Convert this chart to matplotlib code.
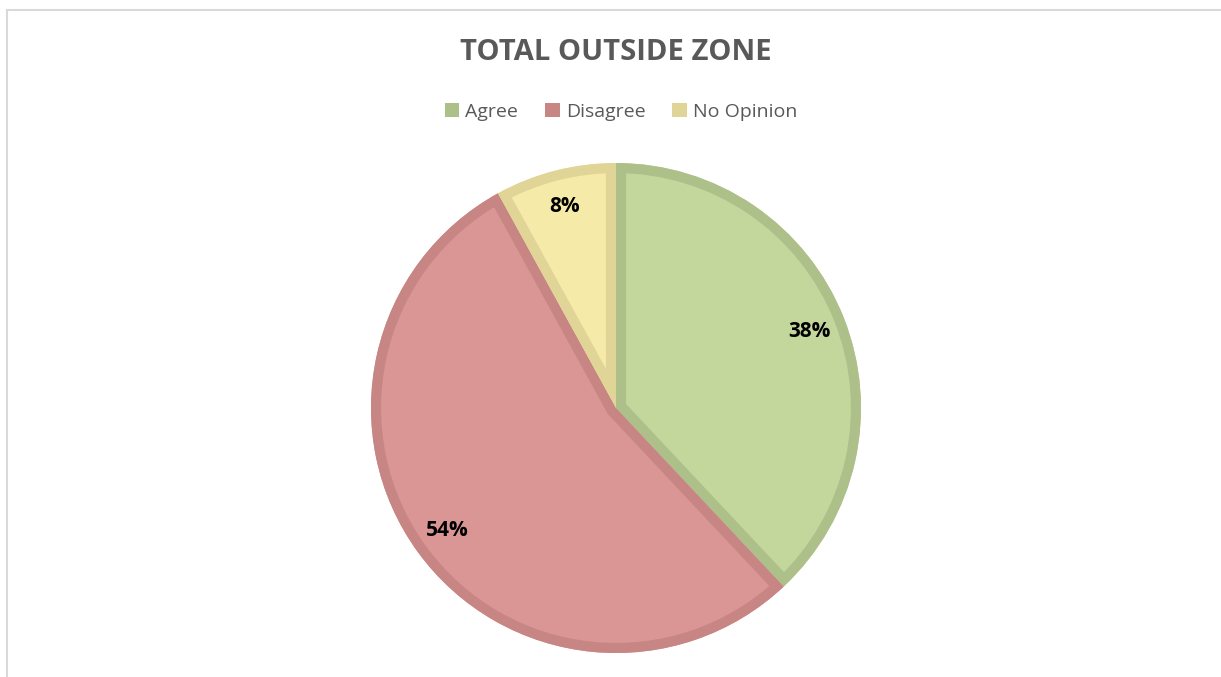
import matplotlib
matplotlib.use("Agg")
import matplotlib.pyplot as plt
from matplotlib.patches import Rectangle, Wedge
from matplotlib.lines import Line2D

categories = ["Agree", "Disagree", "No Opinion"]
values = [38, 54, 8]
face_colors = ["#c3d69b", "#d99694", "#f5eaa8"]
edge_colors = ["#adc08a", "#c78584", "#e0d596"]
title = "TOTAL OUTSIDE ZONE"

W, H = 1221, 677
fig = plt.figure(figsize=(W / 100, H / 100), dpi=100)
ax = fig.add_axes([0, 0, 1, 1])

font = "Open Sans"
cx, cy, r = 616, H - 408, 245

wedges, texts, autotexts = ax.pie(
    values, colors=face_colors, startangle=90, counterclock=False,
    center=(cx, cy), radius=r, autopct="%d%%", pctdistance=0.85,
    wedgeprops=dict(linewidth=0),
    textprops=dict(fontsize=15, fontweight="bold", color="black", family=font),
    frame=True,
)
ax.set_xlim(0, W)
ax.set_ylim(0, H)
ax.set_aspect("equal")
ax.axis("off")

for w, ec in zip(wedges, edge_colors):
    border = Wedge(w.center, w.r, w.theta1, w.theta2, fill=False,
                   edgecolor=ec, linewidth=14.5, joinstyle="miter")
    ax.add_patch(border)
    border.set_clip_path(w)

for t in texts:
    t.set_text("")

# frame lines
ax.add_line(Line2D([6.5, W], [H - 9.5, H - 9.5], color="#d9d9d9", linewidth=1.5))
ax.add_line(Line2D([6.5, 6.5], [0, H - 9.5], color="#d9d9d9", linewidth=1.5))

fig.text(616 / W, 1 - 53 / H, title, ha="center", va="center", fontsize=21,
         fontweight="bold", color="#595959", family=font)

handles = [Rectangle((0, 0), 1, 1, facecolor=ec, edgecolor="none") for ec in edge_colors]
fig.legend(handles, categories, loc="center", bbox_to_anchor=(621 / W, 1 - 112 / H),
           ncol=3, frameon=False, prop=dict(family=font, size=14),
           handlelength=0.75, handleheight=0.75, handletextpad=0.3, columnspacing=1.4,
           labelcolor="#595959")

fig.savefig("out.png", dpi=100)
